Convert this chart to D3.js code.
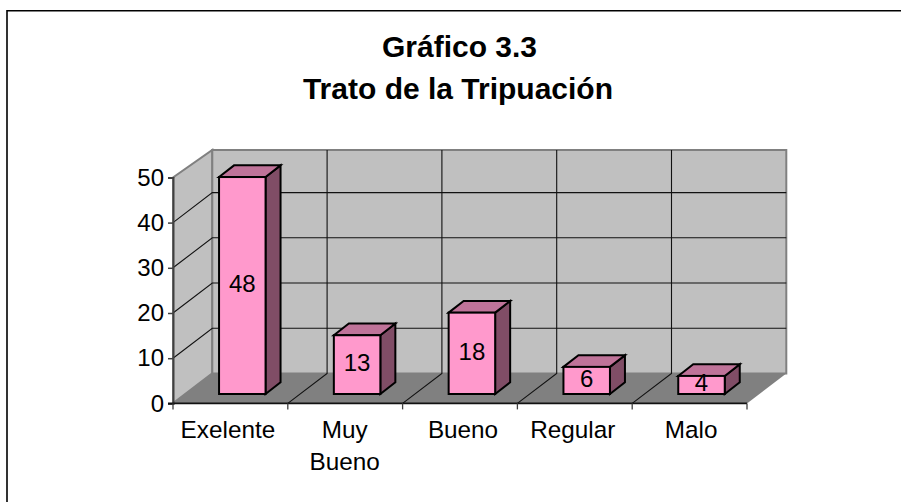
<!DOCTYPE html>
<html><head><meta charset="utf-8">
<script src="https://cdnjs.cloudflare.com/ajax/libs/d3/7.8.5/d3.min.js"></script>
<style>html,body{margin:0;padding:0;background:#fff}svg{display:block}text{font-family:"Liberation Sans",Arial,sans-serif;fill:#000}</style>
</head><body><svg id="c" width="901" height="502"></svg>
<script>
const categories = [["Exelente"],["Muy","Bueno"],["Bueno"],["Regular"],["Malo"]];
const values = [48,13,18,6,4];
const yTicks = [0,10,20,30,40,50];
const titleLines = ["Gráfico 3.3","Trato de la Tripuación"];

const svg = d3.select("#c");
const W=901,H=502;
const pLeft=173,pRight=747,pBottom=403.4,pTop=177.4;
const depthX=39.3,depthY=30,wallTop=150;
const barDX=15,barDY=11.7,barShiftX=12.3,barShiftY=9.4;
const y=d3.scaleLinear().domain([0,50]).range([pBottom,pTop]);
const x=d3.scaleBand().domain(d3.range(values.length)).range([pLeft,pRight]).paddingInner(0).paddingOuter(0);
const bw=46.5;
const labelNudge=[-2.5,-0.5,3,-2,1.5];
const poly=(pts)=>pts.map(p=>p.join(",")).join(" ");

// outer frame (cropped at right and bottom)
svg.append("path").attr("d",`M7,${H+2}V10.7H${W+2}`).attr("fill","none").attr("stroke","#000").attr("stroke-width",1.6);

// title
svg.append("g").selectAll("text").data(titleLines).join("text")
  .attr("x",(d,i)=>i?458:459.5).attr("y",(d,i)=>57+i*41.5).attr("text-anchor","middle")
  .attr("font-size",30).attr("font-weight","bold").text(d=>d);

// walls and floor
svg.append("polygon").attr("points",poly([[pLeft,y(0)],[pLeft+depthX,y(0)-depthY],[pLeft+depthX,wallTop],[pLeft,y(50)]]))
  .attr("fill","#c0c0c0").attr("stroke","#808080").attr("stroke-width",2);
svg.append("polygon").attr("points",poly([[pLeft+depthX,y(0)-depthY],[pRight+depthX,y(0)-depthY],[pRight+depthX,wallTop],[pLeft+depthX,wallTop]]))
  .attr("fill","#c0c0c0").attr("stroke","#808080").attr("stroke-width",2);
svg.append("polygon").attr("points",poly([[pLeft,y(0)],[pRight,y(0)],[pRight+depthX,y(0)-depthY],[pLeft+depthX,y(0)-depthY]]))
  .attr("fill","#808080");

// gridlines
const inner=yTicks.filter(v=>v>0&&v<50);
const grid=svg.append("g").attr("stroke","#111").attr("stroke-width",1.1).attr("fill","none");
grid.selectAll(".h").data(inner).join("path").attr("class","h")
  .attr("d",v=>`M${pLeft},${y(v)}L${pLeft+depthX},${y(v)-depthY}H${pRight+depthX}`);
const edges=d3.range(1,values.length).map(i=>x(i));
grid.selectAll(".v").data(edges).join("path").attr("class","v")
  .attr("d",e=>`M${e},${y(0)}L${e+depthX},${y(0)-depthY}V${wallTop}`);

// axes
const yAxis=d3.axisLeft(y).tickValues(yTicks).tickSize(5).tickPadding(4);
const gy=svg.append("g").attr("transform",`translate(${pLeft},0)`).call(yAxis);
gy.select(".domain").attr("stroke","#404040").attr("stroke-width",2);
gy.selectAll("line").attr("stroke","#404040").attr("stroke-width",1.5);
gy.selectAll("text").attr("font-size",24);
gy.attr("font-family",null);

svg.append("line").attr("x1",pLeft-5).attr("x2",pRight).attr("y1",y(0)).attr("y2",y(0)).attr("stroke","#111").attr("stroke-width",1.6);
svg.append("g").selectAll("line").data([...d3.range(values.length).map(i=>x(i)),pRight]).join("line")
  .attr("x1",d=>d).attr("x2",d=>d).attr("y1",y(0)).attr("y2",y(0)+6).attr("stroke","#404040").attr("stroke-width",1.3);

const cats=svg.append("g").selectAll("text").data(categories).join("text")
  .attr("text-anchor","middle").attr("font-size",24.3)
  .attr("transform",(d,i)=>`translate(${x(i)+x.bandwidth()/2+labelNudge[i]},0)`);
cats.selectAll("tspan").data(d=>d).join("tspan").attr("x",0).attr("y",(d,i)=>437.5+i*32).text(d=>d);

// bars
const bars=svg.append("g").selectAll("g").data(values).join("g")
  .attr("stroke","#000").attr("stroke-width",2).attr("stroke-linejoin","miter");
const bx=i=>x(i)+barShiftX+(x.bandwidth()-bw)/2-0.4;
const fy=v=>y(v)-barShiftY;
const base=y(0)-barShiftY;
bars.append("polygon").attr("fill","#804d66").attr("points",(v,i)=>poly([[bx(i)+bw,fy(v)],[bx(i)+bw+barDX,fy(v)-barDY],[bx(i)+bw+barDX,base-barDY],[bx(i)+bw,base]]));
bars.append("polygon").attr("fill","#bf7399").attr("points",(v,i)=>poly([[bx(i),fy(v)],[bx(i)+barDX,fy(v)-barDY],[bx(i)+bw+barDX,fy(v)-barDY],[bx(i)+bw,fy(v)]]));
bars.append("rect").attr("fill","#ff99cc").attr("x",(v,i)=>bx(i)).attr("y",v=>fy(v)).attr("width",bw).attr("height",v=>base-fy(v));

// data labels
svg.append("g").selectAll("text").data(values).join("text")
  .attr("text-anchor","middle").attr("font-size",24)
  .attr("x",(v,i)=>bx(i)+bw/2).attr("y",v=>(fy(v)+base)/2+6.5).text(v=>v);
</script></body></html>
